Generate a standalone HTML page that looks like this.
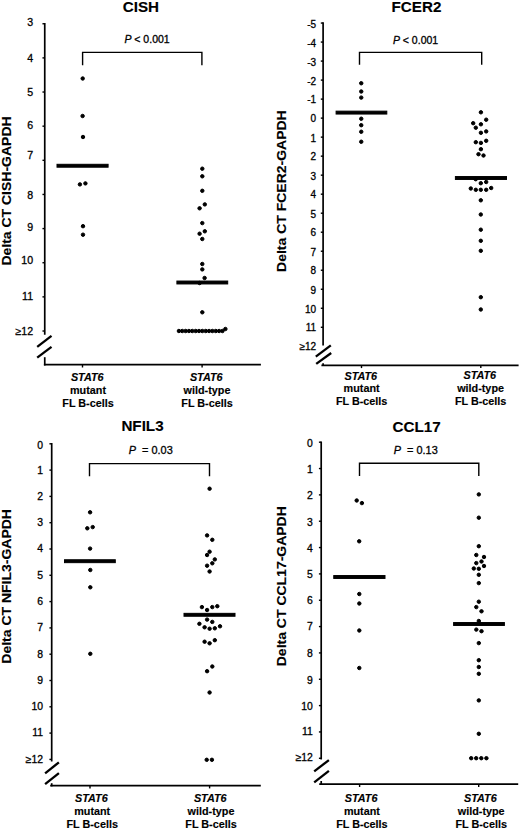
<!DOCTYPE html>
<html><head><meta charset="utf-8"><style>
html,body{margin:0;padding:0;background:#fff;}
body{width:520px;height:829px;overflow:hidden;}
svg{display:block;}
text{font-family:"Liberation Sans",sans-serif;fill:#000;stroke:#000;stroke-width:0.3px;}
.ti,.yl,.ct{stroke-width:0.15px;}
.ti{font-size:15.2px;font-weight:bold;}
.yl{font-size:14px;font-weight:bold;}
.ct{font-size:10.8px;font-weight:bold;}
</style></head><body>
<svg width="520" height="829" viewBox="0 0 520 829" stroke="#000" fill="#000">
<line x1="44.75" y1="23.05" x2="44.75" y2="334.8" stroke-width="1.7" stroke-linecap="butt"/>
<line x1="44.75" y1="357.2" x2="44.75" y2="365.5" stroke-width="1.7" stroke-linecap="butt"/>
<line x1="43.9" y1="364.7" x2="260.9" y2="364.7" stroke-width="1.7" stroke-linecap="butt"/>
<line x1="37.2" y1="346.8" x2="51.5" y2="335.9" stroke-width="2.3" stroke-linecap="butt"/>
<line x1="37.2" y1="357.6" x2="51.5" y2="346.9" stroke-width="2.3" stroke-linecap="butt"/>
<line x1="42.45" y1="23.75" x2="44.75" y2="23.75" stroke-width="1.4" stroke-linecap="butt"/>
<text x="33.1" y="25.54" class="tk" font-size="10.6" text-anchor="end">3</text>
<line x1="42.45" y1="57.89" x2="44.75" y2="57.89" stroke-width="1.4" stroke-linecap="butt"/>
<text x="33.1" y="61.74" class="tk" font-size="10.6" text-anchor="end">4</text>
<line x1="42.45" y1="92.03" x2="44.75" y2="92.03" stroke-width="1.4" stroke-linecap="butt"/>
<text x="33.1" y="96.2" class="tk" font-size="10.6" text-anchor="end">5</text>
<line x1="42.45" y1="126.17" x2="44.75" y2="126.17" stroke-width="1.4" stroke-linecap="butt"/>
<text x="33.1" y="128.74" class="tk" font-size="10.6" text-anchor="end">6</text>
<line x1="42.45" y1="160.31" x2="44.75" y2="160.31" stroke-width="1.4" stroke-linecap="butt"/>
<text x="33.1" y="159.48" class="tk" font-size="10.6" text-anchor="end">7</text>
<line x1="42.45" y1="194.45" x2="44.75" y2="194.45" stroke-width="1.4" stroke-linecap="butt"/>
<text x="33.1" y="199.16" class="tk" font-size="10.6" text-anchor="end">8</text>
<line x1="42.45" y1="228.59" x2="44.75" y2="228.59" stroke-width="1.4" stroke-linecap="butt"/>
<text x="33.1" y="231.12" class="tk" font-size="10.6" text-anchor="end">9</text>
<line x1="42.45" y1="262.73" x2="44.75" y2="262.73" stroke-width="1.4" stroke-linecap="butt"/>
<text x="33.1" y="264.42" class="tk" font-size="10.6" text-anchor="end">10</text>
<line x1="42.45" y1="296.87" x2="44.75" y2="296.87" stroke-width="1.4" stroke-linecap="butt"/>
<text x="33.1" y="300" class="tk" font-size="10.6" text-anchor="end">11</text>
<line x1="42.45" y1="331.01" x2="44.75" y2="331.01" stroke-width="1.4" stroke-linecap="butt"/>
<text x="33.1" y="334.96" class="tk" font-size="10.6" text-anchor="end">&#8805;12</text>
<line x1="82.5" y1="364.7" x2="82.5" y2="367.5" stroke-width="1.4" stroke-linecap="butt"/>
<line x1="202.1" y1="364.7" x2="202.1" y2="367.5" stroke-width="1.4" stroke-linecap="butt"/>
<polyline points="82.6,65.2 82.6,52.4 201.9,52.4 201.9,65.2" fill="none" stroke-width="1.4"/>
<text x="124.4" y="43.4" class="pv" font-size="10.5"><tspan font-style="italic">P</tspan> &lt; 0.001</text>
<text x="140.9" y="12.1" class="ti" text-anchor="middle">CISH</text>
<text x="0" y="0" class="yl" text-anchor="middle" transform="translate(10.7,191) rotate(-90) scale(1,0.885)">Delta CT CISH-GAPDH</text>
<rect x="57" y="164.3" width="51.1" height="2.9"/>
<rect x="176.9" y="281.05" width="50.8" height="2.9"/>
<circle cx="82.7" cy="78.5" r="1.72"/>
<circle cx="82.6" cy="116" r="1.72"/>
<circle cx="83" cy="137" r="1.72"/>
<circle cx="79.9" cy="184.4" r="1.72"/>
<circle cx="85.4" cy="183.4" r="1.72"/>
<circle cx="83" cy="226.2" r="1.72"/>
<circle cx="83" cy="234.7" r="1.72"/>
<circle cx="202.3" cy="168.7" r="1.72"/>
<circle cx="202.3" cy="176.3" r="1.72"/>
<circle cx="202.3" cy="190.8" r="1.72"/>
<circle cx="204.8" cy="204.4" r="1.72"/>
<circle cx="199.6" cy="208.3" r="1.72"/>
<circle cx="202.3" cy="223.1" r="1.72"/>
<circle cx="204.8" cy="231.3" r="1.72"/>
<circle cx="199.6" cy="233.7" r="1.72"/>
<circle cx="202.3" cy="239" r="1.72"/>
<circle cx="202.3" cy="264" r="1.72"/>
<circle cx="202.3" cy="269.4" r="1.72"/>
<circle cx="204.6" cy="278" r="1.72"/>
<circle cx="199.6" cy="283" r="1.72"/>
<circle cx="202.3" cy="312.3" r="1.72"/>
<circle cx="225.4" cy="329" r="1.72"/>
<circle cx="178.9" cy="331" r="1.72"/>
<circle cx="182.25" cy="331" r="1.72"/>
<circle cx="185.6" cy="331" r="1.72"/>
<circle cx="188.95" cy="331" r="1.72"/>
<circle cx="192.3" cy="331" r="1.72"/>
<circle cx="195.65" cy="331" r="1.72"/>
<circle cx="199" cy="331" r="1.72"/>
<circle cx="202.35" cy="331" r="1.72"/>
<circle cx="205.7" cy="331" r="1.72"/>
<circle cx="209.05" cy="331" r="1.72"/>
<circle cx="212.4" cy="331" r="1.72"/>
<circle cx="215.75" cy="331" r="1.72"/>
<circle cx="219.1" cy="331" r="1.72"/>
<circle cx="222.45" cy="331" r="1.72"/>
<text x="88" y="380.3" class="ct" text-anchor="middle"><tspan font-style="italic" dx="-0.8" dy="0.6">STAT6</tspan><tspan x="88" dy="12.7">mutant</tspan><tspan x="88" dy="12.9">FL B-cells</tspan></text>
<text x="207" y="380.5" class="ct" text-anchor="middle"><tspan font-style="italic" dx="-0.8" dy="0.6">STAT6</tspan><tspan x="207" dy="12.7">wild-type</tspan><tspan x="207" dy="12.9">FL B-cells</tspan></text>
<line x1="323.1" y1="22.36" x2="323.1" y2="345.4" stroke-width="1.7" stroke-linecap="butt"/>
<line x1="323.1" y1="363.3" x2="323.1" y2="366.1" stroke-width="1.7" stroke-linecap="butt"/>
<line x1="321.4" y1="365.3" x2="518.6" y2="365.3" stroke-width="1.7" stroke-linecap="butt"/>
<line x1="315.8" y1="356.6" x2="330.8" y2="345.4" stroke-width="2.3" stroke-linecap="butt"/>
<line x1="316.2" y1="363.9" x2="331.2" y2="353" stroke-width="2.3" stroke-linecap="butt"/>
<line x1="320.8" y1="23.06" x2="323.1" y2="23.06" stroke-width="1.4" stroke-linecap="butt"/>
<text x="316.1" y="28.37" class="tk" font-size="10.0" text-anchor="end">-5</text>
<line x1="320.8" y1="42.07" x2="323.1" y2="42.07" stroke-width="1.4" stroke-linecap="butt"/>
<text x="316.1" y="46.87" class="tk" font-size="10.0" text-anchor="end">-4</text>
<line x1="320.8" y1="61.09" x2="323.1" y2="61.09" stroke-width="1.4" stroke-linecap="butt"/>
<text x="316.1" y="65.67" class="tk" font-size="10.0" text-anchor="end">-3</text>
<line x1="320.8" y1="80.1" x2="323.1" y2="80.1" stroke-width="1.4" stroke-linecap="butt"/>
<text x="316.1" y="85.33" class="tk" font-size="10.0" text-anchor="end">-2</text>
<line x1="320.8" y1="99.12" x2="323.1" y2="99.12" stroke-width="1.4" stroke-linecap="butt"/>
<text x="316.1" y="102.79" class="tk" font-size="10.0" text-anchor="end">-1</text>
<line x1="320.8" y1="118.13" x2="323.1" y2="118.13" stroke-width="1.4" stroke-linecap="butt"/>
<text x="316.1" y="121.83" class="tk" font-size="10.0" text-anchor="end">0</text>
<line x1="320.8" y1="137.14" x2="323.1" y2="137.14" stroke-width="1.4" stroke-linecap="butt"/>
<text x="316.1" y="141.75" class="tk" font-size="10.0" text-anchor="end">1</text>
<line x1="320.8" y1="156.16" x2="323.1" y2="156.16" stroke-width="1.4" stroke-linecap="butt"/>
<text x="316.1" y="160.49" class="tk" font-size="10.0" text-anchor="end">2</text>
<line x1="320.8" y1="175.17" x2="323.1" y2="175.17" stroke-width="1.4" stroke-linecap="butt"/>
<text x="316.1" y="179.75" class="tk" font-size="10.0" text-anchor="end">3</text>
<line x1="320.8" y1="194.19" x2="323.1" y2="194.19" stroke-width="1.4" stroke-linecap="butt"/>
<text x="316.1" y="198.45" class="tk" font-size="10.0" text-anchor="end">4</text>
<line x1="320.8" y1="213.2" x2="323.1" y2="213.2" stroke-width="1.4" stroke-linecap="butt"/>
<text x="316.1" y="217.83" class="tk" font-size="10.0" text-anchor="end">5</text>
<line x1="320.8" y1="232.21" x2="323.1" y2="232.21" stroke-width="1.4" stroke-linecap="butt"/>
<text x="316.1" y="235.95" class="tk" font-size="10.0" text-anchor="end">6</text>
<line x1="320.8" y1="251.23" x2="323.1" y2="251.23" stroke-width="1.4" stroke-linecap="butt"/>
<text x="316.1" y="255.69" class="tk" font-size="10.0" text-anchor="end">7</text>
<line x1="320.8" y1="270.24" x2="323.1" y2="270.24" stroke-width="1.4" stroke-linecap="butt"/>
<text x="316.1" y="274.37" class="tk" font-size="10.0" text-anchor="end">8</text>
<line x1="320.8" y1="289.26" x2="323.1" y2="289.26" stroke-width="1.4" stroke-linecap="butt"/>
<text x="316.1" y="293.79" class="tk" font-size="10.0" text-anchor="end">9</text>
<line x1="320.8" y1="308.27" x2="323.1" y2="308.27" stroke-width="1.4" stroke-linecap="butt"/>
<text x="316.1" y="313.25" class="tk" font-size="10.0" text-anchor="end">10</text>
<line x1="320.8" y1="327.28" x2="323.1" y2="327.28" stroke-width="1.4" stroke-linecap="butt"/>
<text x="316.1" y="331.17" class="tk" font-size="10.0" text-anchor="end">11</text>
<text x="316.1" y="349.87" class="tk" font-size="10.0" text-anchor="end">&#8805;12</text>
<line x1="361.5" y1="365.3" x2="361.5" y2="368.1" stroke-width="1.4" stroke-linecap="butt"/>
<line x1="480.8" y1="365.3" x2="480.8" y2="368.1" stroke-width="1.4" stroke-linecap="butt"/>
<polyline points="359.5,64.8 359.5,52.4 481.7,52.4 481.7,64.8" fill="none" stroke-width="1.4"/>
<text x="392.9" y="43.6" class="pv" font-size="10.5"><tspan font-style="italic">P</tspan> &lt; 0.001</text>
<text x="416.5" y="12.1" class="ti" text-anchor="middle">FCER2</text>
<text x="0" y="0" class="yl" text-anchor="middle" transform="translate(286.2,191.1) rotate(-90) scale(1,0.885)">Delta CT FCER2-GAPDH</text>
<rect x="336.1" y="111.15" width="50.7" height="2.9"/>
<rect x="455.4" y="176.55" width="51.1" height="2.9"/>
<circle cx="361.25" cy="83.25" r="1.72"/>
<circle cx="361.25" cy="91.5" r="1.72"/>
<circle cx="361.25" cy="97.6" r="1.72"/>
<circle cx="361.25" cy="118.75" r="1.72"/>
<circle cx="361.25" cy="125.2" r="1.72"/>
<circle cx="361.25" cy="131.75" r="1.72"/>
<circle cx="361.25" cy="141.75" r="1.72"/>
<circle cx="480.9" cy="112.3" r="1.72"/>
<circle cx="486.2" cy="119.7" r="1.72"/>
<circle cx="473.2" cy="123.2" r="1.72"/>
<circle cx="480.9" cy="124.3" r="1.72"/>
<circle cx="475.8" cy="127.7" r="1.72"/>
<circle cx="480.9" cy="132.8" r="1.72"/>
<circle cx="486.2" cy="131.4" r="1.72"/>
<circle cx="475.8" cy="142.2" r="1.72"/>
<circle cx="480.9" cy="142.9" r="1.72"/>
<circle cx="486.2" cy="140.8" r="1.72"/>
<circle cx="480.9" cy="149.2" r="1.72"/>
<circle cx="478.5" cy="154.2" r="1.72"/>
<circle cx="483.5" cy="155.5" r="1.72"/>
<circle cx="475.7" cy="179.2" r="1.72"/>
<circle cx="480.8" cy="183.2" r="1.72"/>
<circle cx="486.2" cy="182" r="1.72"/>
<circle cx="470.8" cy="188.5" r="1.72"/>
<circle cx="475.8" cy="189.8" r="1.72"/>
<circle cx="480.8" cy="189.8" r="1.72"/>
<circle cx="486.2" cy="189.8" r="1.72"/>
<circle cx="491.2" cy="188" r="1.72"/>
<circle cx="480.8" cy="200.3" r="1.72"/>
<circle cx="480.8" cy="214.5" r="1.72"/>
<circle cx="480.8" cy="229.7" r="1.72"/>
<circle cx="480.8" cy="240.8" r="1.72"/>
<circle cx="480.8" cy="250.8" r="1.72"/>
<circle cx="480.8" cy="297.2" r="1.72"/>
<circle cx="480.8" cy="309.5" r="1.72"/>
<text x="361.6" y="379" class="ct" text-anchor="middle"><tspan font-style="italic" dx="-0.8" dy="0.6">STAT6</tspan><tspan x="361.6" dy="12.7">mutant</tspan><tspan x="361.6" dy="12.9">FL B-cells</tspan></text>
<text x="480.6" y="378.7" class="ct" text-anchor="middle"><tspan font-style="italic" dx="-0.8" dy="0.6">STAT6</tspan><tspan x="480.6" dy="12.7">wild-type</tspan><tspan x="480.6" dy="12.9">FL B-cells</tspan></text>
<line x1="51.7" y1="443.1" x2="51.7" y2="761.4" stroke-width="1.7" stroke-linecap="butt"/>
<line x1="51.7" y1="783.2" x2="51.7" y2="786.4" stroke-width="1.7" stroke-linecap="butt"/>
<line x1="50.2" y1="785.6" x2="260.8" y2="785.6" stroke-width="1.7" stroke-linecap="butt"/>
<line x1="45.1" y1="773.3" x2="58.9" y2="762.3" stroke-width="2.3" stroke-linecap="butt"/>
<line x1="45.1" y1="784.1" x2="58.9" y2="773.2" stroke-width="2.3" stroke-linecap="butt"/>
<line x1="49.4" y1="443.8" x2="51.7" y2="443.8" stroke-width="1.4" stroke-linecap="butt"/>
<text x="43.1" y="449.13" class="tk" font-size="10.4" text-anchor="end">0</text>
<line x1="49.4" y1="470.1" x2="51.7" y2="470.1" stroke-width="1.4" stroke-linecap="butt"/>
<text x="43.1" y="473.89" class="tk" font-size="10.4" text-anchor="end">1</text>
<line x1="49.4" y1="496.4" x2="51.7" y2="496.4" stroke-width="1.4" stroke-linecap="butt"/>
<text x="43.1" y="499.51" class="tk" font-size="10.4" text-anchor="end">2</text>
<line x1="49.4" y1="522.7" x2="51.7" y2="522.7" stroke-width="1.4" stroke-linecap="butt"/>
<text x="43.1" y="526.35" class="tk" font-size="10.4" text-anchor="end">3</text>
<line x1="49.4" y1="549" x2="51.7" y2="549" stroke-width="1.4" stroke-linecap="butt"/>
<text x="43.1" y="551.67" class="tk" font-size="10.4" text-anchor="end">4</text>
<line x1="49.4" y1="575.3" x2="51.7" y2="575.3" stroke-width="1.4" stroke-linecap="butt"/>
<text x="43.1" y="579.01" class="tk" font-size="10.4" text-anchor="end">5</text>
<line x1="49.4" y1="601.6" x2="51.7" y2="601.6" stroke-width="1.4" stroke-linecap="butt"/>
<text x="43.1" y="605.09" class="tk" font-size="10.4" text-anchor="end">6</text>
<line x1="49.4" y1="627.9" x2="51.7" y2="627.9" stroke-width="1.4" stroke-linecap="butt"/>
<text x="43.1" y="630.83" class="tk" font-size="10.4" text-anchor="end">7</text>
<line x1="49.4" y1="654.2" x2="51.7" y2="654.2" stroke-width="1.4" stroke-linecap="butt"/>
<text x="43.1" y="657.63" class="tk" font-size="10.4" text-anchor="end">8</text>
<line x1="49.4" y1="680.5" x2="51.7" y2="680.5" stroke-width="1.4" stroke-linecap="butt"/>
<text x="43.1" y="684.13" class="tk" font-size="10.4" text-anchor="end">9</text>
<line x1="49.4" y1="706.8" x2="51.7" y2="706.8" stroke-width="1.4" stroke-linecap="butt"/>
<text x="43.1" y="710.43" class="tk" font-size="10.4" text-anchor="end">10</text>
<line x1="49.4" y1="733.1" x2="51.7" y2="733.1" stroke-width="1.4" stroke-linecap="butt"/>
<text x="43.1" y="736.31" class="tk" font-size="10.4" text-anchor="end">11</text>
<line x1="49.4" y1="759.4" x2="51.7" y2="759.4" stroke-width="1.4" stroke-linecap="butt"/>
<text x="43.1" y="762.85" class="tk" font-size="10.4" text-anchor="end">&#8805;12</text>
<line x1="90" y1="785.6" x2="90" y2="788.4" stroke-width="1.4" stroke-linecap="butt"/>
<line x1="209.6" y1="785.6" x2="209.6" y2="788.4" stroke-width="1.4" stroke-linecap="butt"/>
<polyline points="89.5,476.3 89.5,463.6 209.5,463.6 209.5,476.3" fill="none" stroke-width="1.4"/>
<text x="128.8" y="453.8" class="pv" font-size="10.9"><tspan font-style="italic">P</tspan> &#160;= 0.03</text>
<text x="142.5" y="431.3" class="ti" text-anchor="middle">NFIL3</text>
<text x="0" y="0" class="yl" text-anchor="middle" transform="translate(10.8,586.4) rotate(-90) scale(1,0.885)">Delta CT NFIL3-GAPDH</text>
<rect x="64.5" y="559.75" width="50.8" height="2.9"/>
<rect x="184" y="613.35" width="51" height="2.9"/>
<circle cx="90.1" cy="512.3" r="1.72"/>
<circle cx="87.3" cy="528.3" r="1.72"/>
<circle cx="92.7" cy="527.1" r="1.72"/>
<circle cx="90.1" cy="548.6" r="1.72"/>
<circle cx="90.3" cy="570" r="1.72"/>
<circle cx="90.3" cy="587.3" r="1.72"/>
<circle cx="90.3" cy="653.8" r="1.72"/>
<circle cx="209.6" cy="488.7" r="1.72"/>
<circle cx="207.1" cy="535.4" r="1.72"/>
<circle cx="212.3" cy="539.8" r="1.72"/>
<circle cx="209.6" cy="551.7" r="1.72"/>
<circle cx="207.1" cy="555" r="1.72"/>
<circle cx="214.8" cy="559.4" r="1.72"/>
<circle cx="212.3" cy="563.3" r="1.72"/>
<circle cx="207.1" cy="565.7" r="1.72"/>
<circle cx="209.6" cy="571.5" r="1.72"/>
<circle cx="201.9" cy="607.1" r="1.72"/>
<circle cx="207.1" cy="610" r="1.72"/>
<circle cx="212.3" cy="607.1" r="1.72"/>
<circle cx="217.3" cy="606.2" r="1.72"/>
<circle cx="207.1" cy="619.6" r="1.72"/>
<circle cx="212.3" cy="621.9" r="1.72"/>
<circle cx="199.4" cy="623.8" r="1.72"/>
<circle cx="204.6" cy="627.3" r="1.72"/>
<circle cx="209.6" cy="628.7" r="1.72"/>
<circle cx="214.8" cy="628.3" r="1.72"/>
<circle cx="220" cy="626.3" r="1.72"/>
<circle cx="204.6" cy="641.7" r="1.72"/>
<circle cx="209.6" cy="643.3" r="1.72"/>
<circle cx="214.8" cy="640.2" r="1.72"/>
<circle cx="212.3" cy="666.5" r="1.72"/>
<circle cx="207.1" cy="671.2" r="1.72"/>
<circle cx="209.6" cy="692.5" r="1.72"/>
<circle cx="206.7" cy="759.8" r="1.72"/>
<circle cx="211.9" cy="759.8" r="1.72"/>
<text x="92.2" y="801.3" class="ct" text-anchor="middle"><tspan font-style="italic" dx="-0.8" dy="0.6">STAT6</tspan><tspan x="92.2" dy="12.7">mutant</tspan><tspan x="92.2" dy="12.9">FL B-cells</tspan></text>
<text x="211" y="801.4" class="ct" text-anchor="middle"><tspan font-style="italic" dx="-0.8" dy="0.6">STAT6</tspan><tspan x="211" dy="12.7">wild-type</tspan><tspan x="211" dy="12.9">FL B-cells</tspan></text>
<line x1="321.2" y1="441.5" x2="321.2" y2="759.4" stroke-width="1.7" stroke-linecap="butt"/>
<line x1="321.2" y1="781" x2="321.2" y2="785" stroke-width="1.7" stroke-linecap="butt"/>
<line x1="319.2" y1="784.2" x2="518.2" y2="784.2" stroke-width="1.7" stroke-linecap="butt"/>
<line x1="314.2" y1="771.3" x2="328.9" y2="760.1" stroke-width="2.3" stroke-linecap="butt"/>
<line x1="314.2" y1="782.3" x2="328.9" y2="770.8" stroke-width="2.3" stroke-linecap="butt"/>
<line x1="318.9" y1="442.2" x2="321.2" y2="442.2" stroke-width="1.4" stroke-linecap="butt"/>
<text x="312.9" y="447.17" class="tk" font-size="10.4" text-anchor="end">0</text>
<line x1="318.9" y1="468.54" x2="321.2" y2="468.54" stroke-width="1.4" stroke-linecap="butt"/>
<text x="312.9" y="472.89" class="tk" font-size="10.4" text-anchor="end">1</text>
<line x1="318.9" y1="494.88" x2="321.2" y2="494.88" stroke-width="1.4" stroke-linecap="butt"/>
<text x="312.9" y="499.47" class="tk" font-size="10.4" text-anchor="end">2</text>
<line x1="318.9" y1="521.22" x2="321.2" y2="521.22" stroke-width="1.4" stroke-linecap="butt"/>
<text x="312.9" y="525.85" class="tk" font-size="10.4" text-anchor="end">3</text>
<line x1="318.9" y1="547.56" x2="321.2" y2="547.56" stroke-width="1.4" stroke-linecap="butt"/>
<text x="312.9" y="551.75" class="tk" font-size="10.4" text-anchor="end">4</text>
<line x1="318.9" y1="573.9" x2="321.2" y2="573.9" stroke-width="1.4" stroke-linecap="butt"/>
<text x="312.9" y="577.63" class="tk" font-size="10.4" text-anchor="end">5</text>
<line x1="318.9" y1="600.24" x2="321.2" y2="600.24" stroke-width="1.4" stroke-linecap="butt"/>
<text x="312.9" y="604.09" class="tk" font-size="10.4" text-anchor="end">6</text>
<line x1="318.9" y1="626.58" x2="321.2" y2="626.58" stroke-width="1.4" stroke-linecap="butt"/>
<text x="312.9" y="630.29" class="tk" font-size="10.4" text-anchor="end">7</text>
<line x1="318.9" y1="652.92" x2="321.2" y2="652.92" stroke-width="1.4" stroke-linecap="butt"/>
<text x="312.9" y="656.63" class="tk" font-size="10.4" text-anchor="end">8</text>
<line x1="318.9" y1="679.26" x2="321.2" y2="679.26" stroke-width="1.4" stroke-linecap="butt"/>
<text x="312.9" y="683.59" class="tk" font-size="10.4" text-anchor="end">9</text>
<line x1="318.9" y1="705.6" x2="321.2" y2="705.6" stroke-width="1.4" stroke-linecap="butt"/>
<text x="312.9" y="709.81" class="tk" font-size="10.4" text-anchor="end">10</text>
<line x1="318.9" y1="731.94" x2="321.2" y2="731.94" stroke-width="1.4" stroke-linecap="butt"/>
<text x="312.9" y="734.89" class="tk" font-size="10.4" text-anchor="end">11</text>
<line x1="318.9" y1="758.28" x2="321.2" y2="758.28" stroke-width="1.4" stroke-linecap="butt"/>
<text x="312.9" y="760.97" class="tk" font-size="10.4" text-anchor="end">&#8805;12</text>
<line x1="359.6" y1="784.2" x2="359.6" y2="787" stroke-width="1.4" stroke-linecap="butt"/>
<line x1="478.7" y1="784.2" x2="478.7" y2="787" stroke-width="1.4" stroke-linecap="butt"/>
<polyline points="359.5,475.9 359.5,463.3 478.8,463.3 478.8,475.9" fill="none" stroke-width="1.4"/>
<text x="393.8" y="454" class="pv" font-size="10.9"><tspan font-style="italic">P</tspan> &#160;= 0.13</text>
<text x="416.6" y="431.6" class="ti" text-anchor="middle">CCL17</text>
<text x="0" y="0" class="yl" text-anchor="middle" transform="translate(286.4,586.2) rotate(-90) scale(1,0.885)">Delta CT CCL17-GAPDH</text>
<rect x="333.75" y="575.55" width="51.25" height="2.9"/>
<rect x="453.6" y="622.55" width="50.8" height="2.9"/>
<circle cx="356.7" cy="500.5" r="1.72"/>
<circle cx="361.9" cy="503.1" r="1.72"/>
<circle cx="359.2" cy="541.3" r="1.72"/>
<circle cx="359.3" cy="594" r="1.72"/>
<circle cx="359.3" cy="603.5" r="1.72"/>
<circle cx="359.3" cy="630.5" r="1.72"/>
<circle cx="359.3" cy="668" r="1.72"/>
<circle cx="478.8" cy="494.4" r="1.72"/>
<circle cx="478.8" cy="517.7" r="1.72"/>
<circle cx="478.8" cy="546.2" r="1.72"/>
<circle cx="476.3" cy="555" r="1.72"/>
<circle cx="484" cy="557" r="1.72"/>
<circle cx="481.5" cy="561.5" r="1.72"/>
<circle cx="476.3" cy="563.1" r="1.72"/>
<circle cx="484" cy="566" r="1.72"/>
<circle cx="473.8" cy="568.5" r="1.72"/>
<circle cx="478.8" cy="568.8" r="1.72"/>
<circle cx="478.8" cy="574.8" r="1.72"/>
<circle cx="478.8" cy="583.1" r="1.72"/>
<circle cx="478.8" cy="601.7" r="1.72"/>
<circle cx="476.3" cy="607.1" r="1.72"/>
<circle cx="481.5" cy="611.3" r="1.72"/>
<circle cx="478.8" cy="621" r="1.72"/>
<circle cx="476.3" cy="629.6" r="1.72"/>
<circle cx="481.5" cy="631.2" r="1.72"/>
<circle cx="478.8" cy="643.1" r="1.72"/>
<circle cx="478.8" cy="660.2" r="1.72"/>
<circle cx="478.8" cy="667" r="1.72"/>
<circle cx="478.8" cy="673.8" r="1.72"/>
<circle cx="478.8" cy="700.4" r="1.72"/>
<circle cx="478.8" cy="733.8" r="1.72"/>
<circle cx="471.2" cy="758.2" r="1.72"/>
<circle cx="476.2" cy="758.2" r="1.72"/>
<circle cx="481.3" cy="758.2" r="1.72"/>
<circle cx="486.4" cy="758.2" r="1.72"/>
<text x="361.9" y="801.6" class="ct" text-anchor="middle"><tspan font-style="italic" dx="-0.8" dy="0.6">STAT6</tspan><tspan x="361.9" dy="12.7">mutant</tspan><tspan x="361.9" dy="12.9">FL B-cells</tspan></text>
<text x="481.2" y="801.7" class="ct" text-anchor="middle"><tspan font-style="italic" dx="-0.8" dy="0.6">STAT6</tspan><tspan x="481.2" dy="12.7">wild-type</tspan><tspan x="481.2" dy="12.9">FL B-cells</tspan></text>
</svg>
</body></html>
